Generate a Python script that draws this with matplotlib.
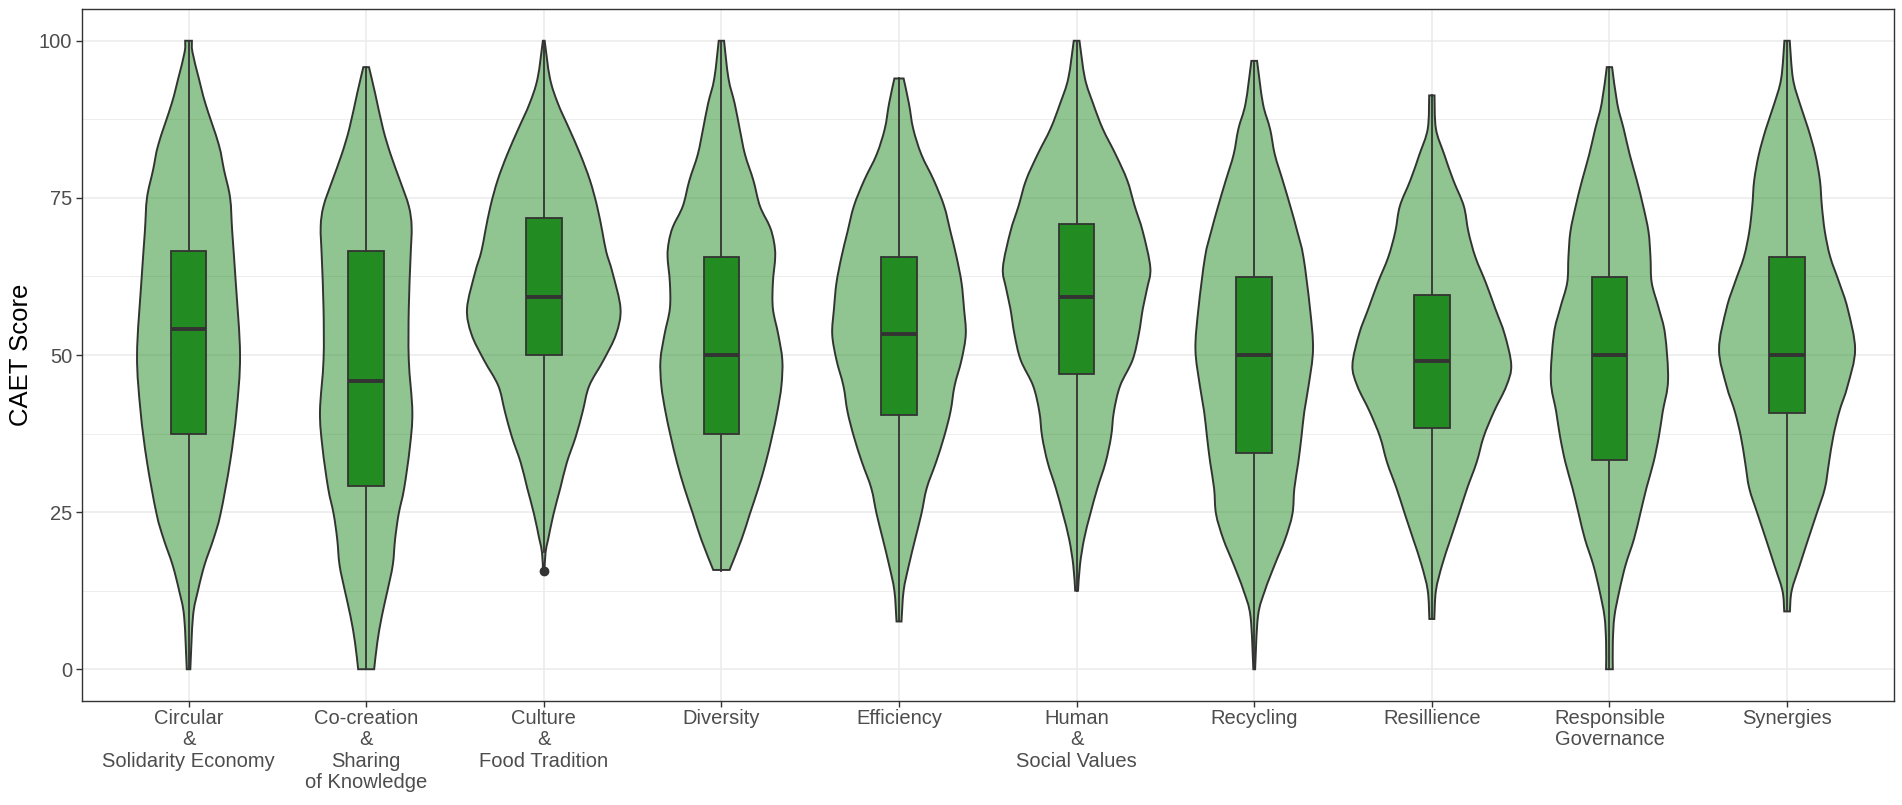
import matplotlib
matplotlib.use("Agg")
import matplotlib.pyplot as plt
from matplotlib.patches import Rectangle, PathPatch
from matplotlib.path import Path
from matplotlib.ticker import MultipleLocator

# category labels as shown on the x axis
categories = ["Circular\n&\nSolidarity Economy",
              "Co-creation\n&\nSharing\nof Knowledge",
              "Culture\n&\nFood Tradition",
              "Diversity",
              "Efficiency",
              "Human\n&\nSocial Values",
              "Recycling",
              "Resillience",
              "Responsible\nGovernance",
              "Synergies"]

# violin outlines: score levels and half widths (in category units)
circular_y = [100, 98.2, 94, 90, 83.5, 79.4, 75, 69.6, 61.5, 50, 41, 33, 24.7, 20.7, 16.6, 12.5, 8.4, 0]
circular_w = [0.019, 0.022, 0.058, 0.095, 0.17, 0.2, 0.234, 0.246, 0.266, 0.29, 0.27, 0.234, 0.18, 0.14, 0.09, 0.053, 0.025, 0.01]

cocreation_y = [95.8, 91.7, 86, 81.9, 77.8, 73.7, 70.4, 65.6, 57.4, 49.2, 41, 35.3, 28.8, 24.7, 20.7, 16.6, 12.5, 8.4, 4.3, 0]
cocreation_w = [0.016, 0.05, 0.095, 0.138, 0.19, 0.24, 0.256, 0.25, 0.24, 0.24, 0.26, 0.246, 0.214, 0.183, 0.163, 0.15, 0.12, 0.088, 0.063, 0.045]

culture_y = [100, 94, 90, 86, 81.9, 77.8, 73.7, 69.6, 66.4, 63.1, 57.4, 53.3, 49.2, 45.1, 41, 37, 32.9, 28.8, 24.7, 20.7, 18.6, 15.6]
culture_w = [0.005, 0.035, 0.08, 0.143, 0.206, 0.26, 0.3, 0.33, 0.352, 0.387, 0.432, 0.407, 0.337, 0.256, 0.219, 0.18, 0.13, 0.093, 0.055, 0.025, 0.01, 0.004]

diversity_y = [100, 94, 90, 86, 81.9, 77.8, 73.7, 70.4, 68, 65.6, 61.5, 57.4, 53.3, 49.2, 45.1, 41, 37, 32.9, 28.8, 24.7, 20.7, 15.8]
diversity_w = [0.015, 0.04, 0.075, 0.103, 0.133, 0.18, 0.217, 0.273, 0.296, 0.303, 0.29, 0.29, 0.32, 0.343, 0.338, 0.315, 0.285, 0.25, 0.208, 0.16, 0.114, 0.046]

efficiency_y = [94, 90, 86, 81.9, 77.8, 73.7, 69.6, 65.6, 61.5, 57.4, 53.3, 49.2, 45.1, 41, 37, 32.9, 28.8, 24.7, 20.7, 16.6, 12.5, 7.6]
efficiency_w = [0.026, 0.056, 0.08, 0.126, 0.196, 0.254, 0.29, 0.324, 0.352, 0.366, 0.376, 0.352, 0.313, 0.29, 0.254, 0.208, 0.156, 0.126, 0.091, 0.056, 0.026, 0.014]

human_y = [100, 94, 90, 86, 81.9, 77.8, 73.7, 69.6, 63.9, 60.6, 57.4, 53.3, 49.2, 45.1, 41, 37, 32.9, 28.8, 24.7, 20.7, 16.6, 12.5]
human_w = [0.016, 0.047, 0.093, 0.147, 0.22, 0.285, 0.327, 0.373, 0.415, 0.397, 0.373, 0.35, 0.315, 0.245, 0.21, 0.194, 0.163, 0.117, 0.077, 0.042, 0.019, 0.008]

recycling_y = [96.8, 90, 86, 81.9, 77.8, 73.7, 69.6, 65.6, 57.4, 50.9, 45.1, 41, 37, 32.9, 28.8, 24.7, 20.7, 16.6, 12.5, 8.4, 0]
recycling_w = [0.016, 0.049, 0.089, 0.116, 0.16, 0.203, 0.243, 0.277, 0.314, 0.331, 0.306, 0.282, 0.266, 0.248, 0.226, 0.215, 0.174, 0.115, 0.06, 0.021, 0.005]

resilience_y = [91.3, 86, 81.9, 77.8, 73.7, 69.6, 65.6, 61.5, 57.4, 53.3, 48.4, 45.1, 41, 37, 32.9, 28.8, 24.7, 20.7, 16.6, 12.5, 8.0]
resilience_w = [0.015, 0.023, 0.07, 0.121, 0.18, 0.206, 0.245, 0.304, 0.357, 0.41, 0.447, 0.42, 0.35, 0.292, 0.252, 0.199, 0.152, 0.105, 0.058, 0.023, 0.014]

governance_y = [95.8, 90, 86, 81.9, 77.8, 73.7, 69.6, 65.6, 61.5, 57.4, 53.3, 46, 41, 37, 32.9, 28.8, 24.7, 20.7, 16.6, 12.5, 8.4, 4.3, 0]
governance_w = [0.015, 0.044, 0.08, 0.114, 0.154, 0.19, 0.22, 0.231, 0.238, 0.278, 0.313, 0.33, 0.3, 0.278, 0.248, 0.208, 0.173, 0.138, 0.091, 0.056, 0.028, 0.019, 0.019]

synergies_y = [100, 94, 90, 86, 81.9, 77.8, 73.7, 69.6, 65.6, 61.5, 57.4, 50.9, 45.1, 41, 37, 32.9, 28.8, 24.7, 20.7, 16.6, 12.5, 9.2]
synergies_w = [0.015, 0.033, 0.072, 0.119, 0.159, 0.185, 0.196, 0.213, 0.243, 0.294, 0.341, 0.383, 0.341, 0.294, 0.26, 0.236, 0.213, 0.166, 0.119, 0.072, 0.026, 0.016]

violin_y = [circular_y, cocreation_y, culture_y, diversity_y, efficiency_y,
            human_y, recycling_y, resilience_y, governance_y, synergies_y]
violin_w = [circular_w, cocreation_w, culture_w, diversity_w, efficiency_w,
            human_w, recycling_w, resilience_w, governance_w, synergies_w]

# boxplot summaries
q1 = [37.4, 29.1, 50.0, 37.4, 40.4, 46.9, 34.4, 38.4, 33.3, 40.7]
median = [54.1, 45.8, 59.3, 50.0, 53.3, 59.3, 50.0, 49.0, 50.0, 50.0]
q3 = [66.6, 66.6, 71.8, 65.6, 65.6, 70.8, 62.4, 59.6, 62.4, 65.6]
whisker_lo = [0, 0, 18.7, 15.6, 7.6, 12.5, 0, 8.0, 0, 9.4]
whisker_hi = [100, 95.8, 100, 100, 94, 100, 96.8, 91.3, 95.8, 100]
outlier_x = [3]
outlier_y = [15.6]

dark = "#333333"
violin_fill = (34 / 255, 139 / 255, 34 / 255, 0.5)
box_fill = "#228B22"


def smooth_side(pts):
    # catmull-rom through the read points, drawn as cubic bezier segments
    verts = []
    n = len(pts)
    for k in range(n - 1):
        p0 = pts[k - 1] if k > 0 else pts[k]
        p1 = pts[k]
        p2 = pts[k + 1]
        p3 = pts[k + 2] if k + 2 < n else pts[k + 1]
        c1 = (p1[0] + (p2[0] - p0[0]) / 6, p1[1] + (p2[1] - p0[1]) / 6)
        c2 = (p2[0] - (p3[0] - p1[0]) / 6, p2[1] - (p3[1] - p1[1]) / 6)
        verts += [c1, c2, p2]
    return verts


def violin_path(pos, ys, ws):
    right = [(pos + w, y) for w, y in zip(ws, ys)]
    left = [(pos - w, y) for w, y in zip(ws[::-1], ys[::-1])]
    verts = [right[0]]
    codes = [Path.MOVETO]
    seg = smooth_side(right)
    verts += seg
    codes += [Path.CURVE4] * len(seg)
    verts.append(left[0])
    codes.append(Path.LINETO)
    seg = smooth_side(left)
    verts += seg
    codes += [Path.CURVE4] * len(seg)
    verts.append(right[0])
    codes.append(Path.CLOSEPOLY)
    return Path(verts, codes)


plt.rcParams['font.family'] = ['Liberation Sans', 'DejaVu Sans']

fig = plt.figure(figsize=(19.02, 8.05), dpi=100)
ax = fig.add_axes([0.0431, 0.1296, 0.9525, 0.8588])

for i in range(len(categories)):
    pos = i + 1
    ax.add_patch(PathPatch(violin_path(pos, violin_y[i], violin_w[i]),
                           facecolor=violin_fill, edgecolor=dark, linewidth=1.4, zorder=2))

    ax.plot([pos, pos], [whisker_lo[i], whisker_hi[i]], color=dark, linewidth=1.3, zorder=3)
    ax.add_patch(Rectangle((pos - 0.1, q1[i]), 0.2, q3[i] - q1[i],
                           facecolor=box_fill, edgecolor=dark, linewidth=1.3, zorder=4))
    ax.plot([pos - 0.1, pos + 0.1], [median[i], median[i]], color=dark,
            linewidth=2.8, solid_capstyle='butt', zorder=5)

ax.plot(outlier_x, outlier_y, 'o', color=dark, markersize=6, zorder=6)

ax.set_xlim(0.4, len(categories) + 0.6)
ax.set_ylim(-5, 105)
ax.set_xticks(range(1, len(categories) + 1))
ax.set_xticklabels(categories, fontsize=14.5, color="#4D4D4D", linespacing=1.15)
ax.yaxis.set_major_locator(MultipleLocator(25))
ax.yaxis.set_minor_locator(MultipleLocator(12.5))
ax.tick_params(axis='y', which='major', labelsize=14.5, labelcolor="#4D4D4D",
               color=dark, length=4, width=1, pad=3)
ax.tick_params(axis='x', which='major', color=dark, length=4, width=1, pad=2)
ax.tick_params(axis='y', which='minor', length=0)

ax.set_axisbelow(True)
ax.grid(which='major', color="#EBEBEB", linewidth=1.1)
ax.grid(which='minor', axis='y', color="#EBEBEB", linewidth=0.6)
for side in ax.spines.values():
    side.set_color(dark)
    side.set_linewidth(1.0)

ax.set_ylabel("CAET Score", fontsize=18.5, color="black")
ax.yaxis.set_label_coords(-0.027, 0.5)

fig.savefig("out.png", dpi=100)
